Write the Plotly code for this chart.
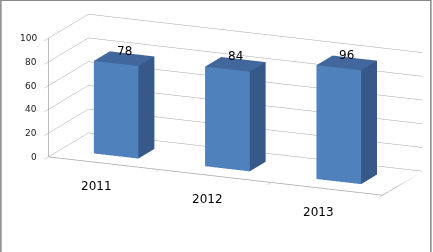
import plotly.graph_objects as go

categories = ["2011", "2012", "2013"]
values = [78, 84, 96]
z_ticks = [0, 20, 40, 60, 80, 100]

FRONT = "#4F81BD"
SIDE = "#36598A"
TOP = "#41679C"

bar_half_w = 0.2
bar_y0, bar_y1 = 0.3, 0.7
x_rng = [-0.5, len(categories) - 0.5]
y_rng = [0, 1]
z_rng = [0, 100]
x_bounds = [x_rng[0] + k for k in range(len(categories) + 1)]

fig = go.Figure()

for i, v in enumerate(values):
    x0, x1 = i - bar_half_w, i + bar_half_w
    X = [x0, x1, x1, x0, x0, x1, x1, x0]
    Y = [bar_y0, bar_y0, bar_y1, bar_y1, bar_y0, bar_y0, bar_y1, bar_y1]
    Z = [0, 0, 0, 0, v, v, v, v]
    faces = [
        (0, 1, 5, FRONT), (0, 5, 4, FRONT),
        (1, 2, 6, SIDE), (1, 6, 5, SIDE),
        (4, 5, 6, TOP), (4, 6, 7, TOP),
        (0, 3, 7, SIDE), (0, 7, 4, SIDE),
        (3, 2, 6, SIDE), (3, 6, 7, SIDE),
    ]
    fig.add_trace(go.Mesh3d(
        x=X, y=Y, z=Z,
        i=[f[0] for f in faces], j=[f[1] for f in faces], k=[f[2] for f in faces],
        facecolor=[f[3] for f in faces], flatshading=True,
        lighting=dict(ambient=1, diffuse=0, specular=0, fresnel=0),
        hoverinfo="skip", showscale=False,
    ))

frame_col = "#A6A6A6"
ex, ey, ez = [], [], []
def seg(p, q):
    ex.extend([p[0], q[0], None]); ey.extend([p[1], q[1], None]); ez.extend([p[2], q[2], None])
seg((x_rng[1], y_rng[0], z_rng[0]), (x_rng[1], y_rng[1], z_rng[0]))
fig.add_trace(go.Scatter3d(x=ex, y=ey, z=ez, mode="lines",
                           line=dict(color=frame_col, width=1.5),
                           hoverinfo="skip", showlegend=False))

label_font = dict(family="DejaVu Sans", size=12, color="black")
annots = []
for i, v in enumerate(values):
    annots.append(dict(x=i, y=(bar_y0 + bar_y1) / 2, z=v, text=str(v), showarrow=False,
                       yshift=8, font=label_font))
for i, c in enumerate(categories):
    annots.append(dict(x=i, y=y_rng[0], z=z_rng[0], text=c, showarrow=False,
                       xshift=-8, yshift=-23, font=label_font))
for t in z_ticks:
    annots.append(dict(x=x_rng[0], y=y_rng[0], z=t, text=str(t), showarrow=False,
                       xanchor="right", xshift=-9,
                       font=dict(family="DejaVu Sans", size=9, color="#222222")))

d = 2.3
view = (0.386, -0.884, 0.263)
c = (-0.120, -0.101, -0.163)
fig.update_layout(
    width=433, height=252,
    margin=dict(l=0, r=0, t=0, b=0),
    paper_bgcolor="white",
    showlegend=False,
    scene=dict(
        domain=dict(x=[0.0, 1.0], y=[0.0, 1.0]),
        aspectmode="manual",
        aspectratio=dict(x=2.893, y=0.791, z=0.976),
        camera=dict(eye=dict(x=c[0] + d * view[0], y=c[1] + d * view[1], z=c[2] + d * view[2]),
                    center=dict(x=c[0], y=c[1], z=c[2]),
                    up=dict(x=0, y=0, z=1),
                    projection=dict(type="orthographic")),
        xaxis=dict(range=x_rng, tickvals=x_bounds, ticktext=[""] * len(x_bounds),
                   showgrid=False, zeroline=False, showline=True, linecolor=frame_col,
                   linewidth=1.5, showbackground=False, title="", showspikes=False,
                   ticks="outside", ticklen=5, tickcolor=frame_col),
        yaxis=dict(range=y_rng, showticklabels=False, showgrid=False,
                   zeroline=False, showbackground=False, title="", showspikes=False, ticks=""),
        zaxis=dict(range=z_rng, tickvals=z_ticks, showticklabels=False, showgrid=True,
                   gridcolor="#A6A6A6", gridwidth=1, zeroline=False,
                   showline=True, linecolor=frame_col, linewidth=1.5,
                   showbackground=False, title="", showspikes=False,
                   ticks="outside", ticklen=4, tickcolor=frame_col),
        annotations=annots,
    ),
    shapes=[dict(type="rect", xref="paper", yref="paper", x0=0.002, x1=0.995,
                 y0=-0.2, y1=0.999, line=dict(color="#888888", width=1.5))],
)

fig.write_html("out.html")
